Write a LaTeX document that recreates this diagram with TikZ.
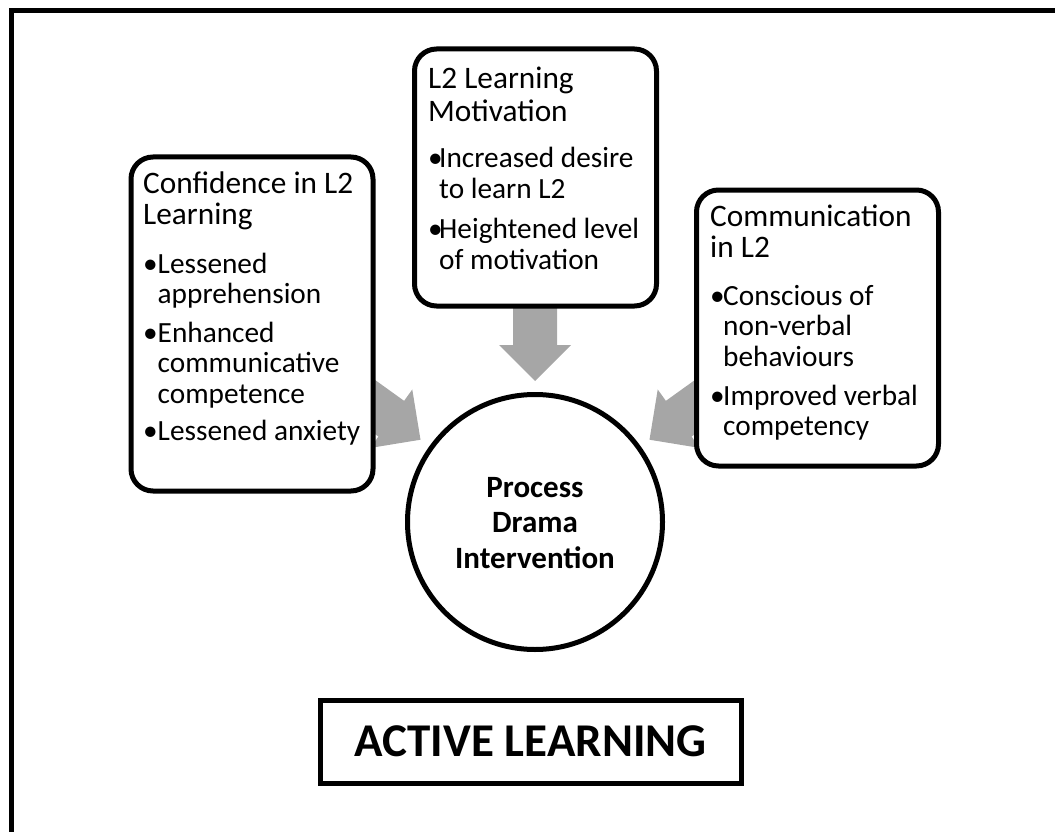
\documentclass[tikz,border=0pt]{standalone}
\usepackage{fontspec}
\setmainfont{Carlito}
\definecolor{arrowgray}{RGB}{166,166,166}
\newcommand{\ttl}{\fontsize{31.3}{30.5}\selectfont}
\newcommand{\itm}{\fontsize{29.3}{30.5}\selectfont}
\newcommand{\bul}[1]{\makebox[#1][l]{\textbullet}}
\newcommand{\setlsl}{\lineskiplimit=-40pt\relax}
\newcommand{\blockarrow}[1]{%
  \begin{scope}[shift={(535,522)}, rotate=#1]
    \fill[arrowgray] (141,0) -- (177,36) -- (177,22) -- (240,22) -- (240,-22) -- (177,-22) -- (177,-36) -- cycle;
  \end{scope}}
\tikzset{
  frameline/.style={line width=5pt},
  roundbox/.style={draw, line width=5pt, rounded corners=22pt, fill=white, inner sep=0pt, minimum width=242pt},
  boxtext/.style={anchor=north west, inner sep=0pt, align=left, font=\fontsize{29.3}{30.5}\selectfont\setlsl},
  centertext/.style={anchor=north, inner sep=0pt, align=center, font=\fontsize{31}{35.5}\selectfont\bfseries\setlsl},
  ring/.style={draw, circle, line width=5pt, minimum size=255pt, inner sep=0pt},
  titlebox/.style={draw, line width=5pt, inner sep=0pt, minimum width=421pt, minimum height=83pt, font=\fontsize{47}{50}\selectfont\bfseries},
}
\begin{document}
\begin{tikzpicture}[x=1pt, y=-1pt]
\useasboundingbox (0,0) rectangle (1055,832);
% outer frame (right and bottom sides lie outside the picture)
\draw[frameline] (11,832) -- (11,11) -- (1055,11);
% block arrows pointing at the circle
\blockarrow{144.3}
\blockarrow{90}
\blockarrow{35.7}
% boxes
\node[roundbox, minimum height=334pt] (lbox) at (252,324) {};
\node[roundbox, minimum height=257pt] (mbox) at (535.5,177.5) {};
\node[roundbox, minimum height=276pt] (rbox) at (817.5,328) {};
% box texts
\node[boxtext] (ltext) at (143,168) {\ttl\rule{0pt}{25pt}Confidence in L2\\[0.5pt]
  \ttl Learning\\[18.5pt]
  \itm\bul{14.5pt}Lessened\\ \itm\hspace*{14.5pt}apprehension\\[8pt]
  \itm\bul{14.5pt}Enhanced\\ \itm\hspace*{14.5pt}communicative\\ \itm\hspace*{14.5pt}competence\\[7pt]
  \itm\bul{14.5pt}Lessened anxiety};
\node[boxtext] (mtext) at (428,63) {\ttl\rule{0pt}{25pt}L2 Learning\\[2.5pt]
  \ttl Motivation\\[15.5pt]
  \itm\bul{11pt}Increased desire\\[1pt] \itm\hspace*{11pt}to learn L2\\[9.5pt]
  \itm\bul{11pt}Heightened level\\ \itm\hspace*{11pt}of motivation};
\node[boxtext] (rtext) at (710,201) {\ttl\rule{0pt}{25pt}Communication\\[0.5pt]
  \ttl in L2\\[17.5pt]
  \itm\bul{13pt}Conscious of\\ \itm\hspace*{13pt}non-verbal\\ \itm\hspace*{13pt}behaviours\\[8.5pt]
  \itm\bul{13pt}Improved verbal\\ \itm\hspace*{13pt}competency};
% circle
\node[ring] (circ) at (535,522) {};
\node[centertext] (ctext) at (535,472) {\rule{0pt}{25pt}Process\\ Drama\\ Intervention};
% title
\node[titlebox] (al) at (530.5,741.5) {ACTIVE LEARNING};
\end{tikzpicture}
\end{document}
